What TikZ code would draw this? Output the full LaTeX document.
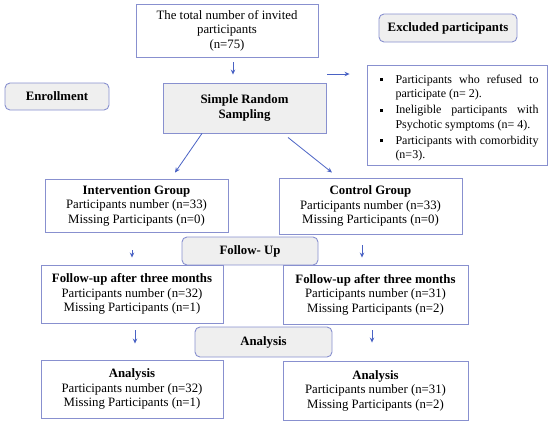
\documentclass[tikz,border=0pt]{standalone}
\usepackage{fontspec}
\setmainfont{Liberation Serif}
\usepackage{tikz}
\usetikzlibrary{arrows.meta,calc,positioning}
\definecolor{boxblue}{HTML}{8890CF}
\definecolor{arrblue}{HTML}{4A62C4}
\definecolor{boxgray}{HTML}{EFEFEF}
\tikzset{
  txt/.style={font=\fontsize{12.8}{14.5}\selectfont},
  plainbox/.style={txt, draw=boxblue, line width=0.9pt, fill=white, align=center, inner sep=0pt},
  stagebox/.style={txt, draw=boxblue, line width=0.9pt, fill=boxgray, rounded corners=5pt, align=center, inner sep=0pt, font=\fontsize{12.8}{14.5}\selectfont\bfseries},
  arr/.style={draw=arrblue, line width=0.8pt, -{Stealth[length=5pt,width=4.5pt]}}
}
\begin{document}
\begin{tikzpicture}[x=1pt,y=-1pt]
\useasboundingbox (0,0) rectangle (550,424);
% enrollment
\node[plainbox, minimum width=182, minimum height=53] (total) at (227,30.5)
  {The total number of invited\\participants\\(n=75)};
\node[stagebox, minimum width=138, minimum height=28] (excl) at (448,28) {Excluded participants};
\node[plainbox, minimum width=180, minimum height=100, text width=163, align=justify, font=\fontsize{12}{14.5}\selectfont] (exclist) at (457,115)
  {\hyphenpenalty=10000 \exhyphenpenalty=10000
   \begin{list}{\raisebox{2pt}{\rule{3pt}{3pt}}}{\leftmargin=20pt \labelsep=13pt \labelwidth=7pt \itemsep=1.5pt \topsep=0pt \parsep=0pt \partopsep=0pt}
   \item Participants who refused to\linebreak participate (n= 2).
   \item Ineligible participants with\linebreak Psychotic symptoms (n= 4).
   \item Participants with comorbidity\linebreak (n=3).
   \end{list}};
\node[stagebox, minimum width=104, minimum height=27] (enroll) at (57,96.5) {Enrollment};
\node[plainbox, fill=boxgray, minimum width=163, minimum height=50, font=\fontsize{12.8}{14.5}\selectfont\bfseries] (sampling) at (244.5,108)
  {Simple Random\\Sampling};
% allocation
\node[plainbox, minimum width=183, minimum height=53] (interv) at (136.5,205.5)
  {\textbf{Intervention Group}\\Participants number (n=33)\\Missing Participants (n=0)};
\node[plainbox, minimum width=183, minimum height=56] (control) at (370.5,206)
  {\textbf{Control Group}\\Participants number (n=33)\\Missing Participants (n=0)};
% follow-up
\node[stagebox, minimum width=136, minimum height=28] (followup) at (250,251) {Follow- Up};
\node[plainbox, minimum width=182, minimum height=58] (fuleft) at (132,294)
  {\textbf{Follow-up after three months}\\Participants number (n=32)\\Missing Participants (n=1)};
\node[plainbox, minimum width=185, minimum height=59] (furight) at (375.5,294.5)
  {\textbf{Follow-up after three months}\\Participants number (n=31)\\Missing Participants (n=2)};
% analysis
\node[stagebox, minimum width=137, minimum height=30] (analysis) at (263.5,342) {Analysis};
\node[plainbox, minimum width=182, minimum height=58] (anleft) at (132,389)
  {\textbf{Analysis}\\Participants number (n=32)\\Missing Participants (n=1)};
\node[plainbox, minimum width=185, minimum height=59] (anright) at (375.5,390.5)
  {\textbf{Analysis}\\Participants number (n=31)\\Missing Participants (n=2)};
% arrows
\coordinate (exclarr) at (327,74);
\draw[arr, shorten <=5pt, shorten >=8pt] ([xshift=6pt]total.south) -- ([xshift=-11.5pt]sampling.north);
\draw[arr, shorten >=17pt] (exclarr) -- (exclarr -| exclist.west);
\draw[arr] ([xshift=-42.5pt]sampling.south) -- ([xshift=38.5pt,yshift=6pt]interv.north);
\draw[arr] ([xshift=43.5pt,yshift=-4pt]sampling.south) -- ([xshift=-38.5pt,yshift=5pt]control.north);
\draw[arr, shorten <=18pt, shorten >=7pt] ([xshift=-4.5pt]interv.south) -- ([xshift=0pt]fuleft.north);
\draw[arr, shorten <=11pt, shorten >=7pt] ([xshift=-8.5pt]control.south) -- ([xshift=-13.5pt]furight.north);
\draw[arr, shorten <=7pt, shorten >=16pt] ([xshift=3pt]fuleft.south) -- ([xshift=3pt]anleft.north);
\draw[arr, shorten <=6pt, shorten >=18pt] ([xshift=-3.5pt]furight.south) -- ([xshift=-3.5pt]anright.north);
\end{tikzpicture}
\end{document}
